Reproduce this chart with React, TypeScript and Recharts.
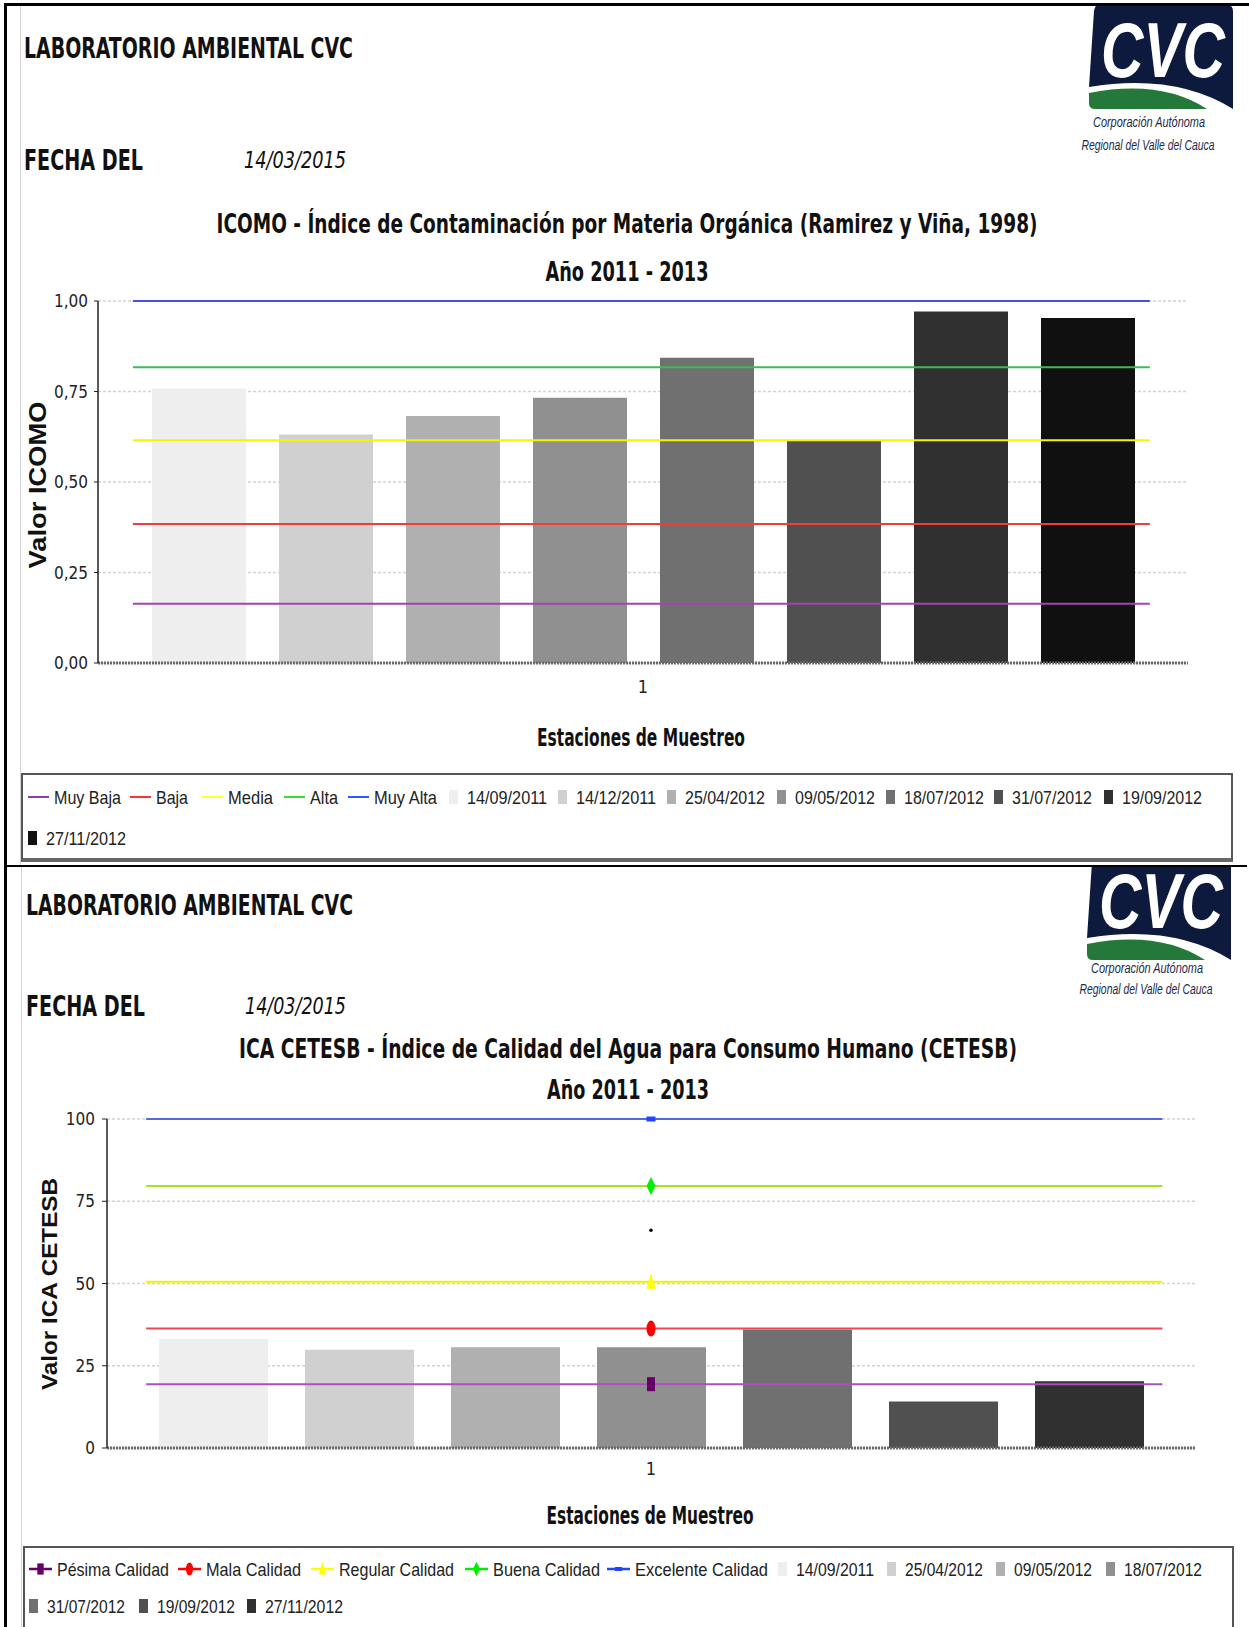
import React from "react";
import {
  ComposedChart,
  Bar,
  XAxis,
  YAxis,
  CartesianGrid,
  ReferenceLine,
  ReferenceDot,
} from "recharts";

const NARROW = "'Liberation Sans Narrow', 'DejaVu Sans Condensed', 'Arial Narrow', sans-serif";
const SANS = "'Liberation Sans', Arial, sans-serif";

// one station on the category axis
const stations = ["1"];

// ICOMO chart
const icomoDates = [
  "14/09/2011", "14/12/2011", "25/04/2012", "09/05/2012",
  "18/07/2012", "31/07/2012", "19/09/2012", "27/11/2012",
];
const icomoValues = [0.758, 0.631, 0.682, 0.733, 0.843, 0.613, 0.971, 0.953];
const icomoLevels = ["Muy Baja", "Baja", "Media", "Alta", "Muy Alta"];
const icomoLevelValues = [0.164, 0.384, 0.615, 0.817, 1.0];
const icomoTicks = [0, 0.25, 0.5, 0.75, 1];

// ICA CETESB chart
const cetesbDates = [
  "14/09/2011", "25/04/2012", "09/05/2012", "18/07/2012",
  "31/07/2012", "19/09/2012", "27/11/2012",
];
const cetesbValues = [33.1, 29.9, 30.6, 30.6, 36.0, 14.1, 20.3];
const cetesbLevels = ["Pésima Calidad", "Mala Calidad", "Regular Calidad", "Buena Calidad", "Excelente Calidad"];
const cetesbLevelValues = [19.4, 36.3, 50.5, 79.6, 100];
const cetesbTicks = [0, 25, 50, 75, 100];
const cetesbStray = [66.2];

// styles
const grays = ["#eeeeee", "#d0d0d0", "#b0b0b0", "#909090", "#707070", "#505050", "#303030", "#101010"];
const icomoLineColors = ["#a044b4", "#f23c3c", "#f5f500", "#3dba5c", "#4352e3"];
const icomoLegendColors = ["#8a3fa8", "#ff3333", "#ffff33", "#33dd33", "#3355ff"];
const cetesbLineColors = ["#a850c0", "#f04552", "#f2f200", "#a0e81c", "#5566e0"];
const cetesbMarkerColors = ["#660066", "#ff0000", "#ffff00", "#00ee00", "#2244ff"];
const cetesbShapes = ["square", "circle", "triangle", "diamond", "bar"];

// legend layout (x offset in box, text width)
const legend1X = [7, 109, 181, 263, 327, 428, 537, 646, 756, 865, 973, 1083, 7];
const legend1W = [67, 32, 45, 28, 63, 80, 80, 80, 80, 80, 80, 80, 80];
const legend2X = [6, 155, 288, 442, 584, 755, 864, 973, 1083, 6, 116, 224];
const legend2W = [112, 95, 115, 107, 133, 78, 78, 78, 78, 78, 78, 78];

function Marker({ kind, cx, cy, color, k = 1 }: { kind: string; cx: number; cy: number; color: string; k?: number }) {
  if (kind === "square") return <rect x={cx - 4 * k} y={cy - 7 * k} width={8 * k} height={14 * k} fill={color} />;
  if (kind === "circle") return <ellipse cx={cx} cy={cy} rx={4.5 * k} ry={8 * k} fill={color} />;
  if (kind === "triangle")
    return <path d={`M${cx},${cy - 9 * k} L${cx + 4.5 * k},${cy + 7 * k} L${cx - 4.5 * k},${cy + 7 * k} Z`} fill={color} />;
  if (kind === "diamond")
    return <path d={`M${cx},${cy - 9 * k} L${cx + 4.5 * k},${cy} L${cx},${cy + 9 * k} L${cx - 4.5 * k},${cy} Z`} fill={color} />;
  return <rect x={cx - 4.5 * k} y={cy - 2.5 * k} width={9 * k} height={5 * k} fill={color} />;
}

type PanelProps = {
  top: number;
  height: number;
  marginTop: number;
  marginRight: number;
  yWidth: number;
  dates: string[];
  values: number[];
  levels: number[];
  levelColors: string[];
  markerColors?: string[];
  ticks: number[];
  max: number;
  fmt: (v: number) => string;
  barSize: number;
  barGap: number;
  span: [number, number];
  xTickMargin: number;
  yTickSize: number;
  yTickMargin: number;
  stray?: number[];
};

function Panel(p: PanelProps) {
  const row: Record<string, number | string> = { name: stations[0] };
  p.values.forEach((v, i) => {
    row[`s${i}`] = v;
  });
  return (
    <div style={{ position: "absolute", left: 0, top: p.top }}>
      <ComposedChart
        width={1249}
        height={p.height}
        data={[row]}
        margin={{ top: p.marginTop, right: p.marginRight, left: 0, bottom: 0 }}
        barGap={p.barGap}
      >
        <CartesianGrid vertical={false} stroke="#d2d2d2" strokeDasharray="3 2" strokeWidth={1.5} />
        <XAxis
          dataKey="name"
          height={40}
          tickLine={false}
          tickSize={6}
          tickMargin={p.xTickMargin}
          axisLine={{ stroke: "#6a6a6a", strokeWidth: 3, strokeDasharray: "2 1" }}
          tick={{ fill: "#222", fontSize: 18, fontFamily: NARROW }}
        />
        <XAxis xAxisId="pos" type="number" domain={[0, 100]} hide allowDataOverflow />
        <YAxis
          width={p.yWidth}
          domain={[0, p.max]}
          ticks={p.ticks}
          interval={0}
          tickFormatter={p.fmt}
          tickSize={p.yTickSize}
          tickMargin={p.yTickMargin}
          axisLine={{ stroke: "#222", strokeWidth: 1.5 }}
          tickLine={{ stroke: "#222" }}
          tick={{ fill: "#222", fontSize: 17, fontFamily: NARROW }}
        />
        {p.dates.map((d, i) => (
          <Bar key={d} dataKey={`s${i}`} name={d} fill={grays[i]} barSize={p.barSize} isAnimationActive={false} />
        ))}
        {p.levels.map((v, i) => (
          <ReferenceLine
            key={`l${i}`}
            y={v}
            stroke={p.levelColors[i]}
            strokeWidth={2}
            shape={(s: any) => {
              const w = s.x2 - s.x1;
              return (
                <line
                  x1={s.x1 + w * p.span[0]}
                  x2={s.x1 + w * p.span[1]}
                  y1={s.y1}
                  y2={s.y2}
                  stroke={p.levelColors[i]}
                  strokeWidth={2}
                />
              );
            }}
          />
        ))}
        {p.markerColors &&
          p.levels.map((v, i) => (
            <ReferenceDot
              key={`m${i}`}
              xAxisId="pos"
              x={50}
              y={v}
              r={6}
              shape={(s: any) => <Marker kind={cetesbShapes[i]} cx={s.cx} cy={s.cy} color={p.markerColors![i]} />}
            />
          ))}
        {(p.stray || []).map((v, i) => (
          <ReferenceDot key={`d${i}`} xAxisId="pos" x={52.6} y={v} r={1.8} fill="#000" stroke="none" />
        ))}
      </ComposedChart>
    </div>
  );
}

type LegendItem = { label: string; kind: "line" | "swatch" | "marker"; color: string; shape?: string; x: number; w: number; row: number };

function LegendBox({
  left, top, width, height, items, rowY,
}: { left: number; top: number; width: number; height: number; items: LegendItem[]; rowY: number[] }) {
  return (
    <div
      style={{
        position: "absolute", left, top, width, height, boxSizing: "border-box",
        border: "2px solid #555", borderBottom: "4px solid #666", background: "#fff",
      }}
    >
      <svg width={width} height={height} style={{ position: "absolute", left: -2, top: -2, overflow: "visible" }}>
        {items.map((it) => {
          const cy = rowY[it.row];
          let tx = it.x + 18;
          let mark: React.ReactNode = null;
          if (it.kind === "line") {
            mark = <line x1={it.x} x2={it.x + 21} y1={cy} y2={cy} stroke={it.color} strokeWidth={2} />;
            tx = it.x + 26;
          } else if (it.kind === "swatch") {
            mark = <rect x={it.x} y={cy - 7} width={9} height={14} fill={it.color} />;
          } else {
            mark = (
              <g>
                <line x1={it.x} x2={it.x + 23} y1={cy} y2={cy} stroke={it.color} strokeWidth={2.5} />
                <Marker kind={it.shape || "square"} cx={it.x + 11.5} cy={cy} color={it.color} k={0.8} />
              </g>
            );
            tx = it.x + 28;
          }
          return (
            <g key={it.label}>
              {mark}
              <text
                x={tx}
                y={cy + 6.5}
                fontSize={19}
                fontFamily={SANS}
                fill="#222"
                textLength={it.w}
                lengthAdjust="spacingAndGlyphs"
              >
                {it.label}
              </text>
            </g>
          );
        })}
      </svg>
    </div>
  );
}

// text fitted to a measured width; sy stretches it upright so the glyphs
// need little horizontal squeezing
function Fit({
  x, y, w, size, children, anchor = "start", bold = true, italic = false, family = NARROW, color = "#111", sy = 1.35,
}: any) {
  return (
    <g transform={`translate(${x},${y}) scale(1,${sy})`}>
      <text
        x={0}
        y={0}
        textLength={w}
        lengthAdjust="spacingAndGlyphs"
        textAnchor={anchor}
        fontSize={size / sy}
        fontWeight={bold ? 700 : 400}
        fontStyle={italic ? "italic" : "normal"}
        fontFamily={family}
        fill={color}
      >
        {children}
      </text>
    </g>
  );
}

// logo: box origin sits PAD px in from the svg's left/top edge;
// clipTop hides the part of the box that runs above a separator
const PAD = 24;
function Logo({ id, x, y, t1, t2, clipTop = -PAD }: { id: string; x: number; y: number; t1: number; t2: number; clipTop?: number }) {
  return (
    <svg width={PAD + 160} height={PAD + 150} style={{ position: "absolute", left: x - PAD, top: y - PAD }}>
      <defs>
        <clipPath id={id}>
          <rect x={-PAD} y={clipTop} width={PAD + 160} height={200} />
        </clipPath>
      </defs>
      <g transform={`translate(${PAD},${PAD})`}>
        <g clipPath={`url(#${id})`}>
          <path d="M9,0 H138 Q144,0 144,6 V104 Q86,68 0,82 L5,6 Q6,0 9,0 Z" fill="#0e1a3d" />
          <path d="M0,88 Q72,74 118,104 H6 Q0,104 0,98 Z" fill="#24793a" />
        </g>
        <g transform="translate(12,72) scale(1,1.35)">
          <text x={0} y={0} fontSize={58} fontStyle="italic" fontWeight={700} fill="#fff" textLength={124} lengthAdjust="spacingAndGlyphs" fontFamily={SANS}>
            CVC
          </text>
        </g>
        <g transform={`translate(60,${t1}) scale(1,1.4)`}>
          <text x={0} y={0} textAnchor="middle" fontSize={10.8} fontStyle="italic" fill="#1c2a4a" fontFamily={SANS} textLength={112} lengthAdjust="spacingAndGlyphs">
            Corporación Autónoma
          </text>
        </g>
        <g transform={`translate(59,${t2}) scale(1,1.4)`}>
          <text x={0} y={0} textAnchor="middle" fontSize={10.4} fontStyle="italic" fill="#1c2a4a" fontFamily={SANS} textLength={133} lengthAdjust="spacingAndGlyphs">
            Regional del Valle del Cauca
          </text>
        </g>
      </g>
    </svg>
  );
}

const comma2 = (v: number) => v.toFixed(2).replace(".", ",");
const plain = (v: number) => String(v);

export default function App() {
  const legend1: LegendItem[] = [
    ...icomoLevels.map((l, i) => ({ label: l, kind: "line" as const, color: icomoLegendColors[i] })),
    ...icomoDates.map((d, i) => ({ label: d, kind: "swatch" as const, color: grays[i] })),
  ].map((it, i) => ({ ...it, x: legend1X[i], w: legend1W[i], row: i < 12 ? 0 : 1 }));
  const legend2: LegendItem[] = [
    ...cetesbLevels.map((l, i) => ({ label: l, kind: "marker" as const, color: cetesbMarkerColors[i], shape: cetesbShapes[i] })),
    ...cetesbDates.map((d, i) => ({ label: d, kind: "swatch" as const, color: grays[i] })),
  ].map((it, i) => ({ ...it, x: legend2X[i], w: legend2W[i], row: i < 9 ? 0 : 1 }));

  return (
    <div style={{ position: "absolute", left: 0, top: 0, width: 1249, height: 1627, background: "#fff", overflow: "hidden" }}>
      <div style={{ position: "absolute", left: 20, top: 6, width: 1, height: 859, background: "#d6d6d6" }} />
      <div style={{ position: "absolute", left: 21, top: 867, width: 1, height: 760, background: "#d6d6d6" }} />

      <Logo id="logo1" x={1089} y={5} t1={122} t2={145} />
      <Logo id="logo2" x={1087} y={856} t1={117} t2={138} clipTop={11} />

      <Panel
        top={280}
        height={423}
        marginTop={21}
        marginRight={61}
        yWidth={98}
        dates={icomoDates}
        values={icomoValues}
        levels={icomoLevelValues}
        levelColors={icomoLineColors}
        ticks={icomoTicks}
        max={1}
        fmt={comma2}
        barSize={94}
        barGap={33}
        span={[0.032, 0.965]}
        xTickMargin={11}
        yTickSize={4}
        yTickMargin={6}
      />
      <Panel
        top={1100}
        height={388}
        marginTop={19}
        marginRight={54}
        yWidth={107}
        dates={cetesbDates}
        values={cetesbValues}
        levels={cetesbLevelValues}
        levelColors={cetesbLineColors}
        markerColors={cetesbMarkerColors}
        ticks={cetesbTicks}
        max={100}
        fmt={plain}
        barSize={109}
        barGap={37}
        span={[0.036, 0.97]}
        xTickMargin={8}
        yTickSize={5}
        yTickMargin={7}
        stray={cetesbStray}
      />

      <LegendBox left={21} top={773} width={1212} height={89} items={legend1} rowY={[24, 65]} />
      <LegendBox left={23} top={1546} width={1211} height={100} items={legend2} rowY={[23, 60]} />

      <svg width={1249} height={1627} style={{ position: "absolute", left: 0, top: 0, pointerEvents: "none" }}>
        <Fit x={24} y={58} w={329} size={28}>LABORATORIO AMBIENTAL CVC</Fit>
        <Fit x={24} y={170} w={119} size={28}>FECHA DEL</Fit>
        <Fit x={244} y={168} w={102} size={23} bold={false} italic sy={1.15}>14/03/2015</Fit>
        <Fit x={627} y={233} w={821} size={26} anchor="middle">ICOMO - Índice de Contaminación por Materia Orgánica (Ramirez y Viña, 1998)</Fit>
        <Fit x={627} y={281} w={163} size={26} anchor="middle">Año 2011 - 2013</Fit>
        <Fit x={641} y={746} w={208} size={25} anchor="middle">Estaciones de Muestreo</Fit>
        <g transform="translate(46,485) rotate(-90)">
          <Fit x={0} y={0} w={167} size={23} anchor="middle" family={SANS} sy={1}>Valor ICOMO</Fit>
        </g>

        <Fit x={26} y={915} w={327} size={28}>LABORATORIO AMBIENTAL CVC</Fit>
        <Fit x={26} y={1016} w={119} size={28}>FECHA DEL</Fit>
        <Fit x={245} y={1014} w={101} size={23} bold={false} italic sy={1.15}>14/03/2015</Fit>
        <Fit x={628} y={1058} w={778} size={26} anchor="middle">ICA CETESB - Índice de Calidad del Agua para Consumo Humano (CETESB)</Fit>
        <Fit x={628} y={1099} w={162} size={26} anchor="middle">Año 2011 - 2013</Fit>
        <Fit x={650} y={1524} w={207} size={25} anchor="middle">Estaciones de Muestreo</Fit>
        <g transform="translate(57,1284) rotate(-90)">
          <Fit x={0} y={0} w={212} size={22} anchor="middle" family={SANS} sy={1}>Valor ICA CETESB</Fit>
        </g>

        <rect x={4} y={3} width={1245} height={3} fill="#000" />
        <rect x={4} y={3} width={3} height={1624} fill="#000" />
        <rect x={4} y={865} width={1243} height={2} fill="#000" />
      </svg>
    </div>
  );
}
